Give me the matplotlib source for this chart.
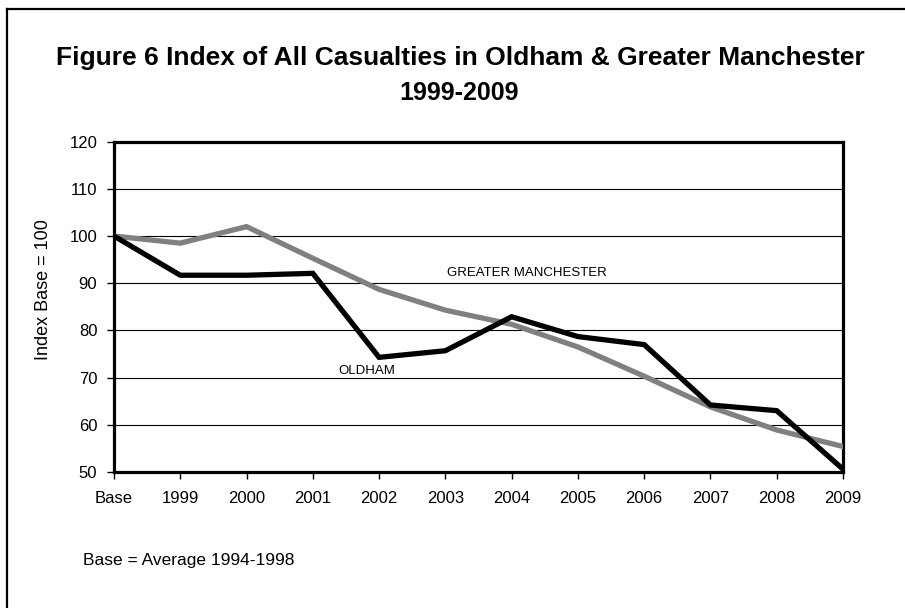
import matplotlib
matplotlib.use("Agg")
import matplotlib.pyplot as plt
from matplotlib.lines import Line2D

plt.rcParams['font.family'] = ['Liberation Sans', 'DejaVu Sans']

categories = ["Base", "1999", "2000", "2001", "2002", "2003", "2004",
              "2005", "2006", "2007", "2008", "2009"]
oldham = [100, 91.7, 91.7, 92.1, 74.3, 75.7, 82.9, 78.7, 77.0, 64.2, 63.0, 50.6]
greater_manchester = [100, 98.5, 102.0, 95.3, 88.7, 84.3, 81.3, 76.5, 70.3, 63.8, 58.9, 55.4]
y_ticks = [50, 60, 70, 80, 90, 100, 110, 120]

W, H = 905, 608
fig = plt.figure(figsize=(W / 100, H / 100), dpi=100)
fig.patch.set_facecolor("white")

# outer frame (left and top edges visible)
fig.add_artist(Line2D([6.5 / W, 6.5 / W], [0, 1 - 9 / H], transform=fig.transFigure,
                      color="black", lw=1.6))
fig.add_artist(Line2D([6.5 / W, 1], [1 - 9 / H, 1 - 9 / H], transform=fig.transFigure,
                      color="black", lw=1.6))

left, right, top, bottom = 114, 843, 141.7, 472
ax = fig.add_axes([left / W, 1 - bottom / H, (right - left) / W, (bottom - top) / H])

x = list(range(len(categories)))
ax.plot(x, greater_manchester, color="#808080", lw=3.8, solid_joinstyle="miter", zorder=3)
ax.plot(x, oldham, color="black", lw=3.8, solid_joinstyle="miter", zorder=4)

ax.set_xlim(0, len(categories) - 1)
ax.set_ylim(50, 120)
ax.set_yticks(y_ticks)
ax.set_yticklabels([str(v) for v in y_ticks])
ax.set_xticks(x)
ax.set_xticklabels(categories)
ax.grid(axis="y", color="black", lw=0.8)
ax.set_axisbelow(True)

for s in ax.spines.values():
    s.set_linewidth(2.3)
    s.set_color("black")

ax.tick_params(axis="y", direction="out", length=5, width=1, pad=7, labelsize=12)
ax.tick_params(axis="x", direction="out", length=5, width=1, pad=8.5, labelsize=12)


def px_to_data(px, py):
    return ax.transData.inverted().transform((px, H - py))


fig.canvas.draw()
gx, gy = px_to_data(446.7, 273.3)
ax.text(gx, gy, "GREATER MANCHESTER", fontsize=9.5, ha="left", va="center")
ox, oy = px_to_data(338, 370.7)
ax.text(ox, oy, "OLDHAM", fontsize=9.5, ha="left", va="center")

fig.text(460 / W, 1 - 65 / H, "Figure 6 Index of All Casualties in Oldham & Greater Manchester",
         ha="center", va="baseline", fontsize=19, fontweight="bold")
fig.text(459 / W, 1 - 100 / H, "1999-2009",
         ha="center", va="baseline", fontsize=18, fontweight="bold")

fig.text(44 / W, 1 - 290 / H, "Index Base = 100", rotation=90,
         ha="center", va="center", fontsize=13)

fig.text(83 / W, 1 - 560 / H, "Base = Average 1994-1998",
         ha="left", va="center", fontsize=12.5)

fig.savefig("out.png", dpi=100, facecolor="white")
